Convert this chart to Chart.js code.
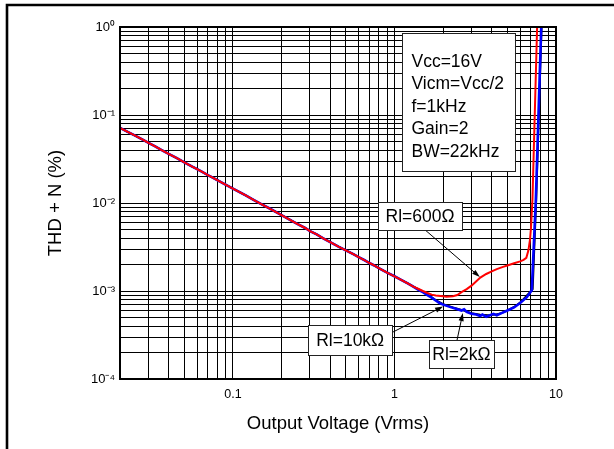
<!DOCTYPE html>
<html><head><meta charset="utf-8">
<script src="https://cdn.jsdelivr.net/npm/chart.js@4.4.1/dist/chart.umd.min.js"></script>
<style>html,body{margin:0;padding:0;background:#fff}#wrap{width:614px;height:449px;position:relative}</style>
</head><body><div id="wrap"><canvas id="c" width="614" height="449"></canvas></div>
<script>
const FONT = '"Liberation Sans", Arial, Helvetica, sans-serif';

// Shared low-level part (all loads overlap), Output Voltage (Vrms) vs THD+N (%)
const vBase   = [0.02, 0.022, 0.025, 0.028, 0.03, 0.033, 0.036, 0.04, 0.045, 0.05, 0.056, 0.06, 0.065, 0.07, 0.075, 0.08, 0.09, 0.1, 0.11, 0.12, 0.135, 0.15, 0.17, 0.2, 0.22, 0.25, 0.28, 0.3, 0.33, 0.36, 0.4, 0.45, 0.5, 0.56, 0.6, 0.65, 0.7, 0.75, 0.8, 0.9, 1.0, 1.1, 1.2, 1.3];
const thdBase = [0.0715, 0.0652, 0.0578, 0.0518, 0.0483, 0.0441, 0.0402, 0.0362, 0.0323, 0.0290, 0.0259, 0.0243, 0.0224, 0.0207, 0.0194, 0.0182, 0.0162, 0.0146, 0.0133, 0.0122, 0.0108, 0.0097, 0.0086, 0.0073, 0.0066, 0.0058, 0.0052, 0.0048, 0.0044, 0.0040, 0.0036, 0.0032, 0.0029, 0.00261, 0.00243, 0.00225, 0.00208, 0.00195, 0.00182, 0.00162, 0.00147, 0.00134, 0.00123, 0.00113];

// Rl = 600 ohm tail
const vRed   = [1.4, 1.5, 1.6, 1.7, 1.8, 2.0, 2.1, 2.3, 2.45, 2.6, 2.8, 3.0, 3.2, 3.4, 3.7, 4.0, 4.3, 4.7, 5.0, 5.5, 6.0, 6.3, 6.55, 6.75, 6.9, 7.0, 7.15, 7.64];
const thdRed = [0.00106, 0.00100, 0.00095, 0.00091, 0.00089, 0.00087, 0.00086, 0.00087, 0.00090, 0.00097, 0.00105, 0.00115, 0.00128, 0.00142, 0.00156, 0.00167, 0.00177, 0.00188, 0.00195, 0.00207, 0.00217, 0.00226, 0.00238, 0.0029, 0.0038, 0.0052, 0.0110, 1.0];

// Rl = 2k ohm tail
const v2k   = [1.4, 1.5, 1.6, 1.7, 1.8, 1.9, 2.0, 2.2, 2.4, 2.6, 2.7, 2.8, 3.0, 3.2, 3.4, 3.5, 3.7, 3.9, 4.1, 4.3, 4.6, 5.0, 5.5, 6.0, 6.6, 7.08, 7.5, 8.1];
const thd2k = [0.00104, 0.00097, 0.00090, 0.00084, 0.00078, 0.00073, 0.00070, 0.00066, 0.00063, 0.00060, 0.00062, 0.00058, 0.00055, 0.00054, 0.00052, 0.00054, 0.00051, 0.00053, 0.00055, 0.00053, 0.00056, 0.00060, 0.00065, 0.00073, 0.00085, 0.00102, 0.0108, 1.0];

// Rl = 10k ohm tail
const v10k   = [1.4, 1.5, 1.6, 1.8, 2.0, 2.3, 2.6, 3.0, 3.4, 3.8, 4.2, 4.6, 5.0, 5.5, 6.0, 6.6, 6.9, 7.18, 7.55, 8.15];
const thd10k = [0.00105, 0.00098, 0.00091, 0.00079, 0.00071, 0.00065, 0.00061, 0.00056, 0.00054, 0.00053, 0.00054, 0.00056, 0.00060, 0.00066, 0.00074, 0.00089, 0.00097, 0.00105, 0.0108, 1.0];

// Axis ticks
const xTickVals = [0.1, 1, 10];
const xTickLabels = ['0.1', '1', '10'];
const yTickVals = [1e-4, 1e-3, 1e-2, 1e-1, 1];
const yTickLabels = ['10\u207B\u2074', '10\u207B\u00B3', '10\u207B\u00B2', '10\u207B\u00B9', '10\u2070'];

// Grid lines (1..9 per decade)
function logGrid(minV, maxV) {
  const out = [];
  for (let e = Math.floor(Math.log10(minV)); e <= Math.ceil(Math.log10(maxV)); e++) {
    for (let m = 1; m <= 9; m++) {
      const v = Number((m * Math.pow(10, e)).toPrecision(6));
      if (v >= minV * 0.9999 && v <= maxV * 1.0001) out.push(v);
    }
  }
  return out;
}
const xGrid = logGrid(0.02, 10);
const yGrid = logGrid(1e-4, 1);

function xy(vs, ts) { return vs.map((v, i) => ({x: v, y: ts[i]})); }
function findLabel(vals, labels, v) {
  const i = vals.findIndex(t => Math.abs(t - v) / t < 1e-6);
  return i >= 0 ? labels[i] : '';
}

// Annotations (anchored in data coordinates)
const paramLines = ['Vcc=16V', 'Vicm=Vcc/2', 'f=1kHz', 'Gain=2', 'BW=22kHz'];
const loadLabels = [
  {text: 'Rl=600\u03A9', cx: 1.44, cy: 0.00711, w: 84, h: 28, from: [1.55, 0.00493], to: [3.38, 0.00144]},
  {text: 'Rl=10k\u03A9', cx: 0.532, cy: 0.000277, w: 84, h: 30, from: [0.98, 0.000342], to: [2.0, 0.000667]},
  {text: 'Rl=2k\u03A9', cx: 2.6, cy: 0.000192, w: 65, h: 28, from: [2.44, 0.000277], to: [2.65, 0.000562]}
];

const decor = {
  id: 'decor',
  afterDatasetsDraw(chart) {
    const {ctx, scales: {x, y}} = chart;
    ctx.save();
    // parameter box
    const pcx = x.getPixelForValue(2.49), pcy = y.getPixelForValue(0.1405);
    const pw = 113, ph = 138;
    ctx.fillStyle = '#fff';
    ctx.fillRect(pcx - pw / 2, pcy - ph / 2, pw, ph);
    ctx.strokeStyle = '#222'; ctx.lineWidth = 1;
    ctx.strokeRect(Math.round(pcx - pw / 2) + 0.5, Math.round(pcy - ph / 2) + 0.5, pw, ph);
    ctx.fillStyle = '#000';
    ctx.font = '17.5px ' + FONT;
    ctx.textAlign = 'left'; ctx.textBaseline = 'middle';
    paramLines.forEach((t, i) => ctx.fillText(t, pcx - pw / 2 + 9.5, pcy - ph / 2 + 29 + i * 22.5));

    // load labels + arrows
    loadLabels.forEach(l => {
      const fx = x.getPixelForValue(l.from[0]), fy = y.getPixelForValue(l.from[1]);
      const tx = x.getPixelForValue(l.to[0]), ty = y.getPixelForValue(l.to[1]);
      ctx.strokeStyle = '#000'; ctx.lineWidth = 1;
      const ang = Math.atan2(ty - fy, tx - fx);
      const hl = 8, hw = 2.6;
      ctx.beginPath(); ctx.moveTo(fx, fy); ctx.lineTo(tx - Math.cos(ang) * hl * 0.8, ty - Math.sin(ang) * hl * 0.8); ctx.stroke();
      ctx.beginPath();
      ctx.moveTo(tx, ty);
      ctx.lineTo(tx - Math.cos(ang) * hl - Math.sin(ang) * hw, ty - Math.sin(ang) * hl + Math.cos(ang) * hw);
      ctx.lineTo(tx - Math.cos(ang) * hl + Math.sin(ang) * hw, ty - Math.sin(ang) * hl - Math.cos(ang) * hw);
      ctx.closePath(); ctx.fillStyle = '#000'; ctx.fill();

      const cx = x.getPixelForValue(l.cx), cy = y.getPixelForValue(l.cy);
      ctx.fillStyle = '#fff';
      ctx.fillRect(cx - l.w / 2, cy - l.h / 2, l.w, l.h);
      ctx.strokeStyle = '#222';
      ctx.strokeRect(Math.round(cx - l.w / 2) + 0.5, Math.round(cy - l.h / 2) + 0.5, l.w, l.h);
      ctx.fillStyle = '#000';
      ctx.textAlign = 'center';
      ctx.fillText(l.text, cx, cy + 1);
    });
    ctx.restore();
  },
  afterDraw(chart) {
    const {ctx, chartArea: a} = chart;
    ctx.save();
    ctx.strokeStyle = '#000'; ctx.lineWidth = 2;
    ctx.strokeRect(a.left, a.top, a.right - a.left, a.bottom - a.top);
    ctx.lineWidth = 2.6;
    ctx.beginPath(); ctx.moveTo(7, 449); ctx.lineTo(7, 5); ctx.lineTo(614, 5); ctx.stroke();
    ctx.restore();
  }
};

new Chart(document.getElementById('c'), {
  type: 'line',
  data: {
    datasets: [
      {label: 'Rl=600\u03A9', data: xy(vBase.concat(vRed), thdBase.concat(thdRed)), borderColor: '#ff0000', borderWidth: 2, pointRadius: 0, tension: 0, order: 0},
      {label: 'Rl=2k\u03A9', data: xy(vBase.concat(v2k), thdBase.concat(thd2k)), borderColor: '#0000ff', borderWidth: 2.6, pointRadius: 0, tension: 0, order: 1},
      {label: 'Rl=10k\u03A9', data: xy(vBase.concat(v10k), thdBase.concat(thd10k)), borderColor: '#000000', borderWidth: 1.8, pointRadius: 0, tension: 0, order: 2}
    ]
  },
  options: {
    responsive: false, animation: false, devicePixelRatio: 1,
    layout: {padding: {left: 41, right: 58, top: 27, bottom: 10}},
    plugins: {legend: {display: false}, tooltip: {enabled: false}},
    scales: {
      x: {
        type: 'logarithmic', min: 0.02, max: 10, position: 'bottom',
        afterBuildTicks: ax => { ax.ticks = xGrid.map(v => ({value: v})); },
        afterFit: ax => { ax.height = 60; },
        ticks: {autoSkip: false, maxRotation: 0, padding: 8, color: '#000', font: {family: FONT, size: 12.5},
          callback: v => findLabel(xTickVals, xTickLabels, v)},
        grid: {color: '#000', lineWidth: 1, drawTicks: false},
        border: {display: true, color: '#000', width: 2},
        title: {display: true, text: 'Output Voltage (Vrms)', color: '#000', font: {family: FONT, size: 18.5}, padding: {top: 4, bottom: 4}}
      },
      y: {
        type: 'logarithmic', min: 1e-4, max: 1, position: 'left',
        afterBuildTicks: ax => { ax.ticks = yGrid.map(v => ({value: v})); },
        afterFit: ax => { ax.width = 79; },
        ticks: {autoSkip: false, padding: 5, color: '#000', font: {family: FONT, size: 13},
          callback: v => findLabel(yTickVals, yTickLabels, v)},
        grid: {color: '#000', lineWidth: 1, drawTicks: false},
        border: {display: true, color: '#000', width: 2},
        title: {display: true, text: 'THD + N (%)', color: '#000', font: {family: FONT, size: 18.5}, padding: {top: 4, bottom: 4}}
      }
    }
  },
  plugins: [decor]
});
</script>
</body></html>
